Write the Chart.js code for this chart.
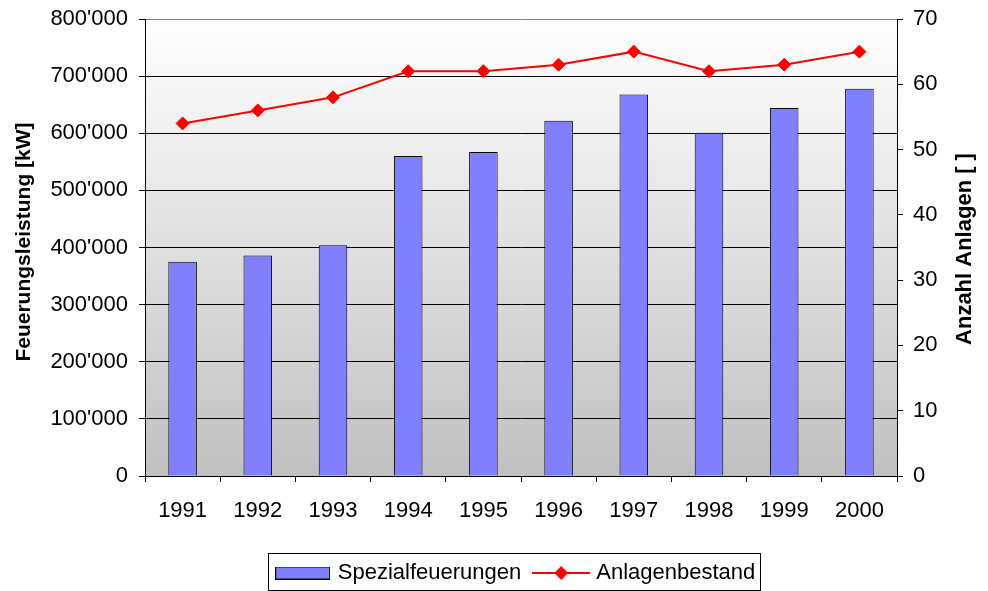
<!DOCTYPE html>
<html><head><meta charset="utf-8">
<script src="https://cdn.jsdelivr.net/npm/chart.js@4/dist/chart.umd.min.js"></script>
<style>html,body{margin:0;padding:0;background:#fff}#wrap{width:988px;height:591px;position:relative}</style>
</head><body><div id="wrap"><canvas id="c" width="988" height="591"></canvas></div>
<script>
const years = ['1991','1992','1993','1994','1995','1996','1997','1998','1999','2000'];
const leistung = [375000, 386000, 404000, 560000, 567000, 622000, 668000, 601000, 644000, 678000];
const anlagen = [54, 56, 58, 62, 62, 63, 65, 62, 63, 65];
const seriesNames = ['Spezialfeuerungen', 'Anlagenbestand'];
const axisTitles = ['Feuerungsleistung [kW]', 'Anzahl Anlagen [ ]'];
const leftAxis = {min: 0, max: 800000, step: 100000};
const rightAxis = {min: 0, max: 70, step: 10};

const FONT = '"Liberation Sans", Arial, sans-serif';
const fmt = v => String(v).replace(/\B(?=(\d{3})+(?!\d))/g, "'");

function barSymbol() {
  const c = document.createElement('canvas'); c.width = 55; c.height = 13;
  const g = c.getContext('2d');
  g.fillStyle = '#8080ff'; g.fillRect(0, 0, 55, 13);
  g.strokeStyle = '#000'; g.lineWidth = 1; g.strokeRect(0.5, 0.5, 54, 12);
  return c;
}
function lineSymbol() {
  const c = document.createElement('canvas'); c.width = 58; c.height = 14;
  const g = c.getContext('2d');
  g.strokeStyle = '#ff0000'; g.lineWidth = 2;
  g.beginPath(); g.moveTo(0, 7); g.lineTo(58, 7); g.stroke();
  g.fillStyle = '#ff0000';
  g.beginPath(); g.moveTo(29 - 7, 7); g.lineTo(29, 0); g.lineTo(29 + 7, 7); g.lineTo(29, 14); g.closePath(); g.fill();
  return c;
}

const bgPlugin = {
  id: 'bg',
  beforeDraw(chart) {
    const {ctx, chartArea: a} = chart;
    const gr = ctx.createLinearGradient(0, a.top, 0, a.bottom);
    gr.addColorStop(0, '#ffffff');
    gr.addColorStop(1, '#c0c0c0');
    ctx.save(); ctx.fillStyle = gr; ctx.fillRect(a.left, a.top, a.right - a.left, a.bottom - a.top); ctx.restore();
  }
};
const legendShift = {
  id: 'legendShift',
  afterLayout(chart) { chart.legend.left += 23; chart.legend.right += 23; }
};
const extras = {
  id: 'extras',
  afterDraw(chart) {
    const ctx = chart.ctx;
    const hb = chart.legend.legendHitBoxes;
    if (hb && hb.length) {
      const l = Math.round(hb[0].left - 11), r = Math.round(hb[hb.length - 1].left + hb[hb.length - 1].width + 5);
      ctx.save(); ctx.strokeStyle = '#000'; ctx.lineWidth = 1;
      ctx.strokeRect(l + 0.5, 553.5, r - l, 37); ctx.restore();
    }
    ctx.save();
    ctx.fillStyle = '#000'; ctx.textAlign = 'center'; ctx.textBaseline = 'middle';
    ctx.font = 'bold 21px ' + FONT;
    ctx.translate(24, 242); ctx.rotate(-Math.PI / 2);
    ctx.fillText(axisTitles[0], 0, 0);
    ctx.restore();
    ctx.save();
    ctx.fillStyle = '#000'; ctx.textAlign = 'center'; ctx.textBaseline = 'middle';
    ctx.font = 'bold 22px ' + FONT;
    ctx.translate(965, 249); ctx.rotate(-Math.PI / 2);
    ctx.fillText(axisTitles[1], 0, 0);
    ctx.restore();
  }
};

new Chart(document.getElementById('c'), {
  data: {
    labels: years,
    datasets: [
      {type: 'bar', label: seriesNames[0], data: leistung, yAxisID: 'y', backgroundColor: '#8080ff',
       borderColor: '#000', borderWidth: 1, barPercentage: 0.38, categoryPercentage: 1, order: 1},
      {type: 'line', label: seriesNames[1], data: anlagen, yAxisID: 'y1', borderColor: '#ff0000', borderWidth: 2,
       pointStyle: 'rectRot', pointRadius: 6.5, pointBackgroundColor: '#ff0000', pointBorderColor: '#ff0000',
       pointBorderWidth: 1, tension: 0, order: 0}
    ]
  },
  options: {
    responsive: false, animation: false, devicePixelRatio: 1,
    layout: {padding: {top: 19, bottom: -3, left: 0, right: 0}},
    plugins: {
      tooltip: {enabled: false},
      legend: {
        position: 'bottom', align: 'center',
        labels: {
          usePointStyle: true, pointStyleWidth: 48, padding: 16,
          font: {family: FONT, size: 22}, color: '#000',
          generateLabels: () => [
            {text: seriesNames[0], pointStyle: barSymbol(), fillStyle: '#8080ff', strokeStyle: '#000', lineWidth: 0, hidden: false, datasetIndex: 0},
            {text: seriesNames[1], pointStyle: lineSymbol(), fillStyle: '#ff0000', strokeStyle: '#ff0000', lineWidth: 0, hidden: false, datasetIndex: 1}
          ]
        }
      }
    },
    scales: {
      x: {
        offset: true,
        grid: {offset: true, drawOnChartArea: false, drawTicks: true, tickLength: 6, color: '#000', tickColor: '#000'},
        border: {color: '#000', width: 1},
        ticks: {font: {family: FONT, size: 22}, color: '#000', padding: 16, maxRotation: 0, autoSkip: false},
        afterFit: s => { s.height = 70; }
      },
      y: {
        position: 'left', min: leftAxis.min, max: leftAxis.max,
        ticks: {stepSize: leftAxis.step, callback: v => fmt(v), font: {family: FONT, size: 22}, color: '#000', padding: 11},
        grid: {color: c => (c.tick && c.tick.value === leftAxis.max) ? '#808080' : '#000', tickColor: '#000', tickLength: 6, drawTicks: true},
        border: {color: '#000', width: 1},
        afterFit: s => { s.width = 145; s.paddingTop = 0; s.paddingBottom = 0; }
      },
      y1: {
        position: 'right', min: rightAxis.min, max: rightAxis.max,
        ticks: {stepSize: rightAxis.step, font: {family: FONT, size: 22}, color: '#000', padding: 10},
        grid: {drawOnChartArea: false, tickColor: '#000', tickLength: 6, drawTicks: true},
        border: {color: '#000', width: 1},
        afterFit: s => { s.width = 91; s.paddingTop = 0; s.paddingBottom = 0; }
      }
    }
  },
  plugins: [bgPlugin, legendShift, extras]
});
</script></body></html>
